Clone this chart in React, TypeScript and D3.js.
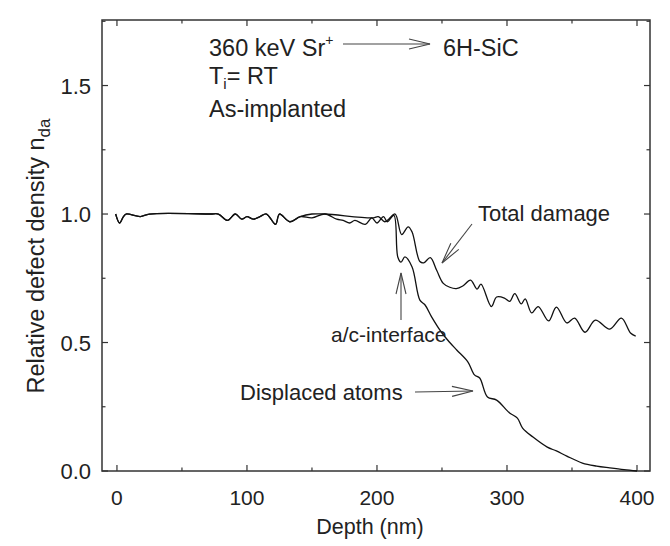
import React from "react";
import * as d3 from "d3";

const totalDepth = [-1, 2, 5, 7, 18, 25, 72, 78, 85, 91, 96, 100, 105, 110, 115, 122, 125, 133, 141, 150, 160, 197, 201, 206, 209, 214, 219, 224, 227, 233, 236, 241, 246, 251, 256, 261, 266, 272, 277, 280, 288, 292, 298, 302, 306, 311, 314, 319, 324, 332, 338, 346, 352, 360, 368, 379, 388, 395, 399];
const totalValue = [1.0, 0.965, 0.99, 1.0, 0.99, 1.0, 1.0, 1.0, 0.975, 1.0, 0.98, 0.99, 0.98, 0.99, 1.0, 0.96, 1.0, 0.97, 0.99, 1.0, 1.0, 0.985, 0.99, 0.97, 0.98, 1.0, 0.92, 0.95, 0.93, 0.815, 0.81, 0.83, 0.78, 0.73, 0.715, 0.71, 0.72, 0.743, 0.708, 0.727, 0.64, 0.677, 0.673, 0.66, 0.69, 0.65, 0.67, 0.615, 0.64, 0.584, 0.638, 0.576, 0.595, 0.54, 0.587, 0.552, 0.595, 0.537, 0.525];

const displacedDepth = [-1, 2, 5, 7, 18, 25, 72, 78, 85, 91, 96, 100, 105, 110, 115, 122, 125, 133, 141, 150, 160, 169, 174, 179, 183, 191, 196, 200, 205, 208, 213, 216, 218.5, 221.5, 227, 233, 237, 242, 250, 256, 261.5, 270, 275, 279, 285, 292, 302, 308, 312, 320, 331, 338, 346, 358, 369, 379, 390, 400];
const displacedValue = [1.0, 0.965, 0.99, 1.0, 0.99, 1.0, 1.0, 1.0, 0.975, 1.0, 0.98, 0.99, 0.98, 0.99, 1.0, 0.96, 1.0, 0.97, 0.99, 0.985, 1.0, 0.98, 0.975, 0.965, 0.975, 0.96, 0.985, 0.965, 0.99, 0.97, 0.995, 0.833, 0.813, 0.833, 0.794, 0.665, 0.646, 0.6, 0.537, 0.5, 0.47, 0.424, 0.374, 0.362, 0.288, 0.276, 0.226, 0.206, 0.167, 0.132, 0.093, 0.078, 0.058, 0.031, 0.019, 0.012, 0.005, 0.0];

const xMajorTicks = [0, 100, 200, 300, 400];
const xMinorTicks = [50, 150, 250, 350];
const yMajorTicks = [0, 0.5, 1.0, 1.5];
const yMinorTicks = [0.25, 0.75, 1.25, 1.75];

const W = 670, H = 546;
const L = 102, R = 650, T = 20, B = 471;
const FONT = "'Liberation Sans', Arial, Helvetica, sans-serif";
const TXT = "#222";

export default function App() {
  const x = d3.scaleLinear().domain([-11.5, 410]).range([L, R]);
  const y = d3.scaleLinear().domain([0, 1.755]).range([B, T]);
  const line = d3.line<[number, number]>().x(d => x(d[0])).y(d => y(d[1])).curve(d3.curveCatmullRom.alpha(0.5));
  const totalPts = totalDepth.map((d, i) => [d, totalValue[i]] as [number, number]);
  const dispPts = displacedDepth.map((d, i) => [d, displacedValue[i]] as [number, number]);
  const axisCol = "#333";
  const arrowCol = "#444";

  const arrow = (x1: number, y1: number, x2: number, y2: number, hl = 21, hw = 5) => {
    const dx = x2 - x1, dy = y2 - y1;
    const len = Math.hypot(dx, dy);
    const ux = dx / len, uy = dy / len;
    const px = -uy, py = ux;
    const bx = x2 - ux * hl, by = y2 - uy * hl;
    return (
      <g stroke={arrowCol} strokeWidth={1.1} fill="none">
        <line x1={x1} y1={y1} x2={x2} y2={y2} />
        <polyline points={`${bx + px * hw},${by + py * hw} ${x2},${y2} ${bx - px * hw},${by - py * hw}`} />
      </g>
    );
  };

  return (
    <svg width={W} height={H} style={{ position: "absolute", left: 0, top: 0, background: "#fff" }} fontFamily={FONT}>
      <rect x={0} y={0} width={W} height={H} fill="#fff" />
      <rect x={L} y={T} width={R - L} height={B - T} fill="none" stroke={axisCol} strokeWidth={1.5} />
      {xMajorTicks.map(t => (
        <g key={"xm" + t} stroke={axisCol} strokeWidth={1.2}>
          <line x1={x(t)} x2={x(t)} y1={B} y2={B - 6} />
          <line x1={x(t)} x2={x(t)} y1={T} y2={T + 6} />
        </g>
      ))}
      {xMinorTicks.map(t => (
        <g key={"xn" + t} stroke={axisCol} strokeWidth={1.2}>
          <line x1={x(t)} x2={x(t)} y1={B} y2={B - 3.5} />
          <line x1={x(t)} x2={x(t)} y1={T} y2={T + 3.5} />
        </g>
      ))}
      {yMajorTicks.map(t => (
        <g key={"ym" + t} stroke={axisCol} strokeWidth={1.2}>
          <line x1={L} x2={L + 6} y1={y(t)} y2={y(t)} />
          <line x1={R} x2={R - 6} y1={y(t)} y2={y(t)} />
        </g>
      ))}
      {yMinorTicks.map(t => (
        <g key={"yn" + t} stroke={axisCol} strokeWidth={1.2}>
          <line x1={L} x2={L + 3.5} y1={y(t)} y2={y(t)} />
          <line x1={R} x2={R - 3.5} y1={y(t)} y2={y(t)} />
        </g>
      ))}
      {xMajorTicks.map(t => (
        <text key={"xl" + t} x={x(t)} y={505} textAnchor="middle" fontSize={21} fill={TXT}>{t}</text>
      ))}
      {yMajorTicks.map(t => (
        <text key={"yl" + t} x={91} y={y(t) + 8} textAnchor="end" fontSize={22} fill={TXT}>{t.toFixed(1)}</text>
      ))}
      <text x={370} y={534} textAnchor="middle" fontSize={21.5} fill={TXT}>Depth (nm)</text>
      <text transform={`translate(44,${256}) rotate(-90)`} textAnchor="middle" fontSize={23.5} fill={TXT}>
        Relative defect density n<tspan fontSize={17} dy={6}>da</tspan>
      </text>
      <path d={line(dispPts) || ""} fill="none" stroke="#111" strokeWidth={1.3} />
      <path d={line(totalPts) || ""} fill="none" stroke="#111" strokeWidth={1.3} />
      <text x={209} y={56} fontSize={23.5} fill={TXT}>
        360 keV Sr<tspan fontSize={14} dy={-11}>+</tspan>
      </text>
      {arrow(343, 44, 430, 44)}
      <text x={443} y={56} fontSize={23.5} fill={TXT}>6H-SiC</text>
      <text x={209} y={84} fontSize={23.5} fill={TXT}>
        T<tspan fontSize={15} dy={5}>i</tspan><tspan dy={-5}>= RT</tspan>
      </text>
      <text x={209} y={117} fontSize={23.5} fill={TXT}>As-implanted</text>
      <text x={478} y={221} fontSize={22} fill={TXT}>Total damage</text>
      {arrow(472, 224, 442, 263)}
      <text x={331} y={342} fontSize={21} fill={TXT}>a/c-interface</text>
      {arrow(401, 320, 401, 273)}
      <text x={240} y={400} fontSize={22} fill={TXT}>Displaced atoms</text>
      {arrow(415, 392, 473, 391)}
    </svg>
  );
}
